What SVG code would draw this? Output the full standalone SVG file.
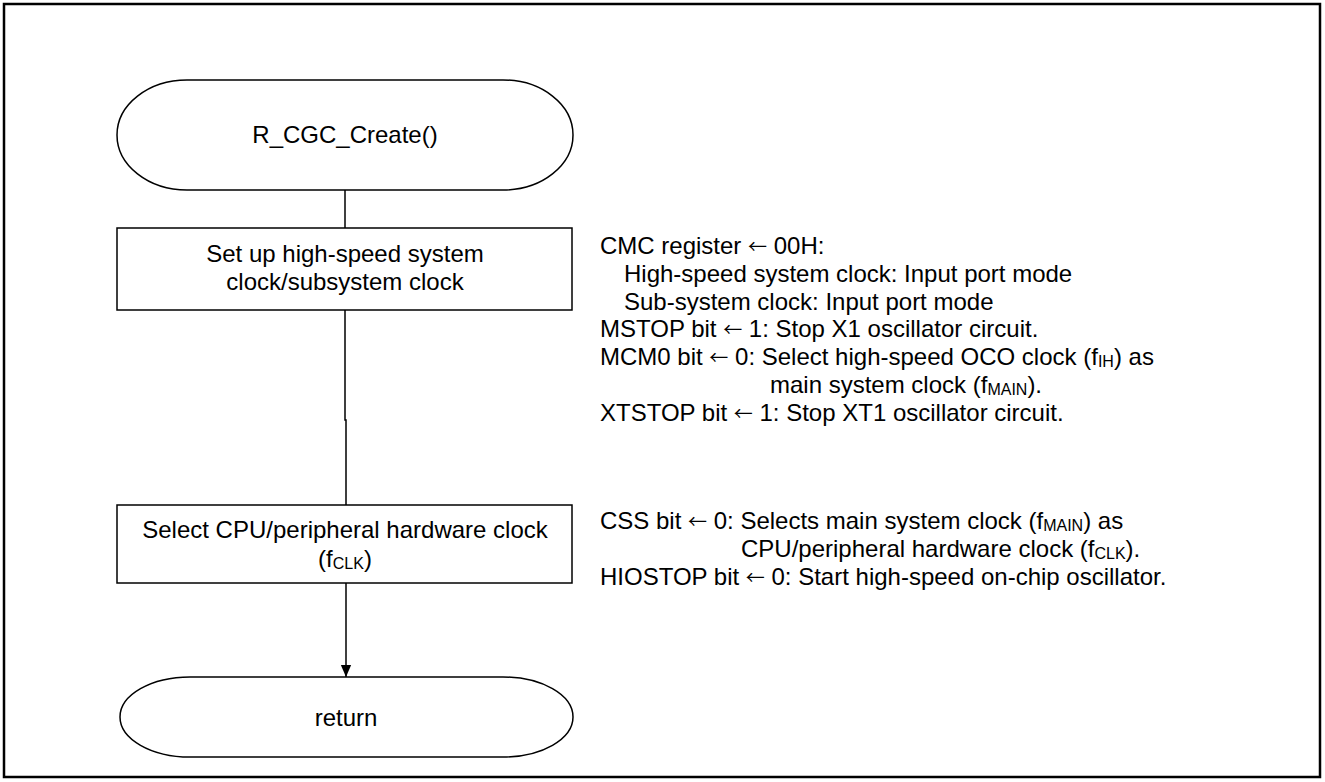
<svg xmlns="http://www.w3.org/2000/svg" width="1325" height="782" viewBox="0 0 1325 782">
<defs>
<style>
text{font-family:"Liberation Sans",Arial,sans-serif;font-size:24px;fill:#000}
.c{text-anchor:middle}
.n{fill:#fff;stroke:#000;stroke-width:1.5}
.ln{fill:none;stroke:#000;stroke-width:1.5}
.s{font-size:16px}
.ar{font-family:"Noto Sans CJK JP","DejaVu Sans",sans-serif;font-size:19px}
</style>
<marker id="ah" markerWidth="12" markerHeight="14" refX="14" refY="6" orient="auto" markerUnits="userSpaceOnUse" viewBox="0 0 14 12">
<path d="M0,0 L14,6 L0,12 Z" fill="#000"/>
</marker>
</defs>
<rect x="0" y="0" width="1325" height="782" fill="#fff"/>
<rect x="4" y="4" width="1316" height="773" fill="none" stroke="#000" stroke-width="2.5"/>
<g id="connectors">
<line class="ln" x1="345" y1="190" x2="345" y2="228"/>
<polyline class="ln" points="345,310 345,420 346,420 346,505"/>
<line class="ln" x1="346" y1="583" x2="346" y2="677" marker-end="url(#ah)"/>
</g>
<g id="start">
<rect class="n" x="117" y="80" width="456" height="110" rx="70" ry="55"/>
<text class="c" x="345" y="143">R_CGC_Create()</text>
</g>
<g id="step1">
<rect class="n" x="117" y="228" width="455" height="82"/>
<text class="c" x="345" y="262">Set up high-speed system</text>
<text class="c" x="345" y="290">clock/subsystem clock</text>
</g>
<g id="step2">
<rect class="n" x="117" y="505" width="455" height="78"/>
<text class="c" x="345" y="538">Select CPU/peripheral hardware clock</text>
<text class="c" x="345" y="567">(f<tspan class="s" dy="2">CLK</tspan><tspan dy="-2">)</tspan></text>
</g>
<g id="end">
<rect class="n" x="120" y="677" width="453" height="80" rx="70" ry="40"/>
<text class="c" x="346" y="726">return</text>
</g>
<g id="note1">
<text x="600" y="254">CMC register <tspan class="ar">←</tspan> 00H:</text>
<text x="624" y="282">High-speed system clock: Input port mode</text>
<text x="624" y="310">Sub-system clock: Input port mode</text>
<text x="600" y="337">MSTOP bit <tspan class="ar">←</tspan> 1: Stop X1 oscillator circuit.</text>
<text x="600" y="365">MCM0 bit <tspan class="ar">←</tspan> 0: Select high-speed OCO clock (f<tspan class="s" dy="2">IH</tspan><tspan dy="-2">) as</tspan></text>
<text x="770" y="393">main system clock (f<tspan class="s" dy="2">MAIN</tspan><tspan dy="-2">).</tspan></text>
<text x="600" y="421">XTSTOP bit <tspan class="ar">←</tspan> 1: Stop XT1 oscillator circuit.</text>
</g>
<g id="note2">
<text x="600" y="529">CSS bit <tspan class="ar">←</tspan> 0: Selects main system clock (f<tspan class="s" dy="2">MAIN</tspan><tspan dy="-2">) as</tspan></text>
<text x="741" y="557">CPU/peripheral hardware clock (f<tspan class="s" dy="2">CLK</tspan><tspan dy="-2">).</tspan></text>
<text x="600" y="585">HIOSTOP bit <tspan class="ar">←</tspan> 0: Start high-speed on-chip oscillator.</text>
</g>
</svg>
